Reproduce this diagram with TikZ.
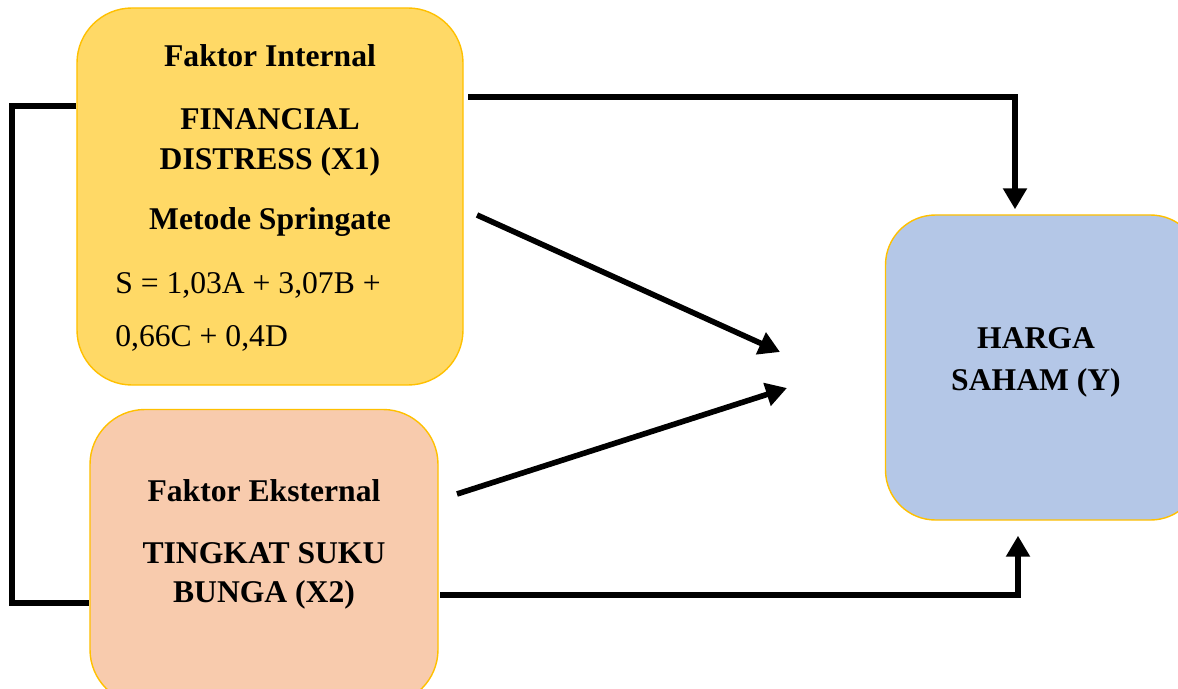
\documentclass[tikz,border=0pt]{standalone}
\usepackage{fontspec}
\setmainfont{Liberation Serif}
\usetikzlibrary{arrows.meta, positioning}

\definecolor{kuning}{HTML}{FFD966}
\definecolor{jingga}{HTML}{F8CBAD}
\definecolor{biru}{HTML}{B4C7E7}
\definecolor{tepi}{HTML}{FFC000}

\begin{document}
\begin{tikzpicture}[x=0.2mm, y=-0.2mm,
    kotak/.style={draw=tepi, line width=0.8pt, rounded corners=1.1cm, inner sep=0pt},
    judul/.style={font=\fontsize{18}{22}\selectfont\bfseries, anchor=base},
    rumus/.style={font=\fontsize{18}{22}\selectfont, anchor=base west, inner sep=0pt},
    panah/.style={line width=3.2pt, -{Triangle[length=4.2mm, width=4.6mm]}},
    garisan/.style={line width=3.2pt, line join=miter}]
    \clip (0,0) rectangle (1178,688);

    % Kotak-kotak variabel
    \node[kotak, fill=kuning, minimum width=7.72cm, minimum height=7.54cm] (box1) at (270,196.5) {};
    \node[kotak, fill=jingga, minimum width=6.96cm, minimum height=5.9cm] (box2) at (264,557) {};
    \node[kotak, fill=biru, minimum width=6.3cm, minimum height=6.1cm, rounded corners=1cm] (box3) at (1043,367.5) {};

    % Teks faktor internal
    \node[judul] (int) at (270,67) {Faktor Internal};
    \node[judul] (fd1) at (270,129) {FINANCIAL};
    \node[judul] (fd2) at (270,169) {DISTRESS (X1)};
    \node[judul] (mtd) at (270,229) {Metode Springate};
    \node[rumus] (rm1) at (115,293) {S = 1,03A + 3,07B +};
    \node[rumus] (rm2) at (115,346) {0,66C + 0,4D};

    % Teks faktor eksternal
    \node[judul] (eks) at (264,501) {Faktor Eksternal};
    \node[judul] (sb1) at (264,563) {TINGKAT SUKU};
    \node[judul] (sb2) at (264,602) {BUNGA (X2)};

    % Teks variabel Y
    \node[judul] (hs1) at (1036,348) {HARGA};
    \node[judul] (hs2) at (1036,390) {SAHAM (Y)};

    % Titik bantu
    \coordinate (t1) at (468,97);
    \coordinate (t2) at (477,215);
    \coordinate (t3) at (457,494);
    \coordinate (t4) at (440,595);
    \coordinate (m1) at (780,352);
    \coordinate (m2) at (787,388);
    \coordinate (l1) at (12,106);
    \coordinate (l2) at (12,603);

    % Panah
    \draw[panah, shorten >=1mm] (t1) -| ([xshift=-5.6mm]box3.north);
    \draw[panah] (t2) -- (m1);
    \draw[panah] (t3) -- (m2);
    \draw[panah, shorten >=3mm] (t4) -| ([xshift=-5mm]box3.south);

    % Garis korelasi kiri
    \draw[garisan] (box1.west |- l1) -- (l1) -- (l2) -- (box2.west |- l2);
\end{tikzpicture}
\end{document}
